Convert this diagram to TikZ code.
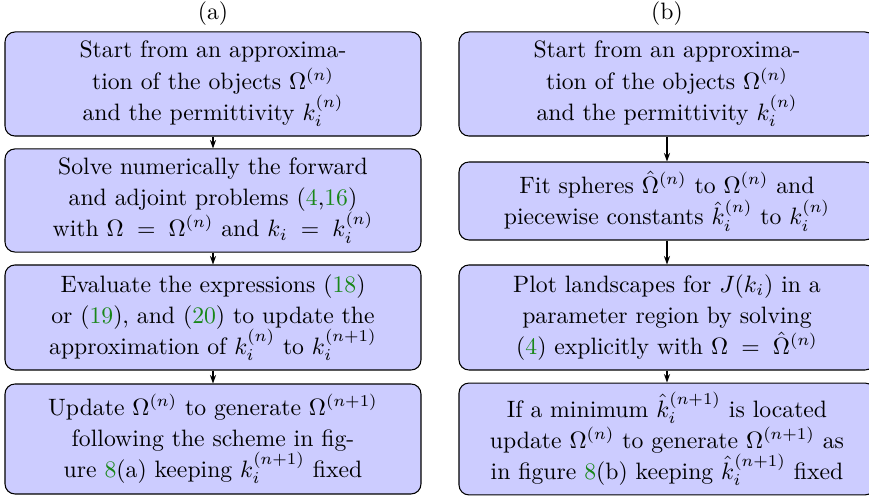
\documentclass[tikz,border=0pt]{standalone}
\usetikzlibrary{arrows.meta}
\definecolor{boxfill}{RGB}{204,204,255}
\definecolor{refgreen}{rgb}{0.1,0.53,0.1}
\newcommand{\rf}[1]{\textcolor{refgreen}{#1}}
\begin{document}
\begin{tikzpicture}[x=0.4219pt,y=-0.4219pt,
  flowbox/.style={draw=black, fill=boxfill, rounded corners=4.2pt, line width=0.45pt,
    minimum width=175.5pt, align=center, inner sep=0pt,
    font=\fontsize{10}{13.1}\selectfont},
  title/.style={font=\fontsize{10}{12}\selectfont, inner sep=0pt},
  flowarrow/.style={-{Stealth[length=3.6pt,width=2.6pt]}, line width=0.45pt}
]
\useasboundingbox (0,0) rectangle (869,497);
\clip (0,0) rectangle (869,497);

\node[title] (ta) at (213,14) {(a)};
\node[title] (tb) at (667,14) {(b)};

% left column
\node[flowbox, minimum height=43.9pt] (a1) at (213,84)
  {Start from an approxima-\\ tion of the objects $\Omega^{(n)}$\\ and the permittivity $k_i^{(n)}$};
\node[flowbox, minimum height=43.5pt] (a2) at (213,200.5)
  {Solve numerically the forward\\ and adjoint problems (\rf{4},\rf{16})\\ with $\Omega\;=\;\Omega^{(n)}$ and $k_i\;=\;k_i^{(n)}$};
\node[flowbox, minimum height=44.3pt] (a3) at (213,317.5)
  {Evaluate the expressions (\rf{18})\\ or (\rf{19}), and (\rf{20}) to update the\\ approximation of $k_i^{(n)}$ to $k_i^{(n+1)}$};
\node[flowbox, minimum height=46.4pt] (a4) at (213,439)
  {Update $\Omega^{(n)}$ to generate $\Omega^{(n+1)}$\\ following the scheme in fig-\\ ure \rf{8}(a) keeping $k_i^{(n+1)}$ fixed};

% right column
\node[flowbox, minimum height=43.9pt] (b1) at (667,84)
  {Start from an approxima-\\ tion of the objects $\Omega^{(n)}$\\ and the permittivity $k_i^{(n)}$};
\node[flowbox, minimum height=32.9pt] (b2) at (667,201)
  {Fit spheres $\hat{\Omega}^{(n)}$ to $\Omega^{(n)}$ and\\ piecewise constants $\hat{k}_i^{(n)}$ to $k_i^{(n)}$};
\node[flowbox, minimum height=44.3pt] (b3) at (667,317.5)
  {Plot landscapes for $J(k_i)$ in a\\ parameter region by solving\\ (\rf{4}) explicitly with $\Omega\;=\;\hat{\Omega}^{(n)}$};
\node[flowbox, minimum height=47.2pt] (b4) at (667,439)
  {If a minimum $\hat{k}_i^{(n+1)}$ is located\\ update $\Omega^{(n)}$ to generate $\Omega^{(n+1)}$ as\\ in figure \rf{8}(b) keeping $\hat{k}_i^{(n+1)}$ fixed};

\draw[flowarrow] (a1.south) -- (a2.north);
\draw[flowarrow] (a2.south) -- (a3.north);
\draw[flowarrow] (a3.south) -- (a4.north);
\draw[flowarrow] (b1.south) -- (b2.north);
\draw[flowarrow] (b2.south) -- (b3.north);
\draw[flowarrow] (b3.south) -- (b4.north);
\end{tikzpicture}
\end{document}
